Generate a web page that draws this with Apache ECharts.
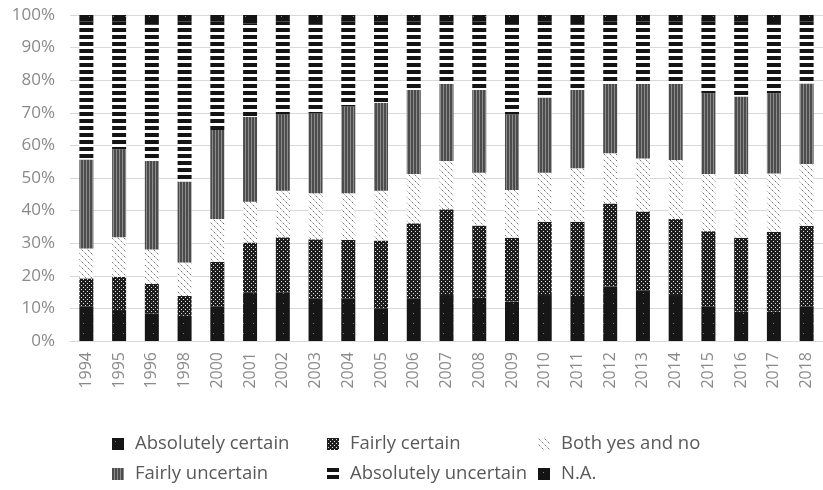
<!DOCTYPE html>
<html>
<head>
<meta charset="utf-8">
<script src="https://cdn.jsdelivr.net/npm/echarts@6/dist/echarts.min.js"></script>
<style>
html,body{margin:0;padding:0;background:#fff;}
#chart{width:823px;height:490px;}
</style>
</head>
<body>
<div id="chart"></div>
<script>
var years = ['1994','1995','1996','1998','2000','2001','2002','2003','2004','2005','2006','2007','2008','2009','2010','2011','2012','2013','2014','2015','2016','2017','2018'];
var absCertain = [10.5,9.5,8.5,7.7,10.5,14.8,14.8,13.1,13.1,10.0,13.1,14.1,13.3,12.1,14.1,13.8,16.7,15.4,14.1,10.5,9.0,9.0,10.5];
var fairlyCertain = [8.7,10.2,9.0,6.1,13.8,15.4,17.0,18.1,17.9,20.8,23.0,26.3,22.1,19.6,22.5,22.8,25.5,24.3,23.3,23.2,22.7,24.5,24.8];
var bothYesNo = [9.2,12.1,10.6,10.3,13.1,12.5,14.3,14.1,14.3,15.3,15.1,14.8,16.2,14.6,15.0,16.4,15.4,16.3,18.1,17.5,19.5,17.9,19.0];
var fairlyUncertain = [27.3,27.0,27.1,24.8,27.3,26.1,23.4,24.5,26.6,27.0,25.8,23.6,25.4,23.2,23.1,24.0,21.2,22.8,23.3,24.8,23.8,24.6,24.7];
var absUncertain = [42.3,39.2,41.8,49.1,33.3,28.7,28.5,27.2,26.1,24.9,21.0,19.2,21.0,27.5,23.3,20.0,19.2,19.2,19.2,22.0,23.0,21.0,19.0];
var notAvailable = [2,2,3,2,2,2.5,2,3,2,2,2,2,2,3,2,3,2,2,2,2,2,3,2];
var seriesNames = ['Absolutely certain','Fairly certain','Both yes and no','Fairly uncertain','Absolutely uncertain','N.A.'];
var yTicks = [0,10,20,30,40,50,60,70,80,90,100];

function makePattern(w, h, bg, pixels) {
  var c = document.createElement('canvas');
  c.width = w; c.height = h;
  var ctx = c.getContext('2d');
  ctx.fillStyle = bg; ctx.fillRect(0, 0, w, h);
  pixels.forEach(function (p) {
    ctx.fillStyle = p[4];
    ctx.fillRect(p[0], p[1], p[2], p[3]);
  });
  return { image: c, repeat: 'repeat' };
}

var patAC = makePattern(10, 10, '#161616', [[3,3,1,1,'#777']]);
var patFC = makePattern(4, 4, '#1e1e1e', [[1,1,1,1,'#e0e0e0'],[3,3,1,1,'#e0e0e0']]);
var patBoth = makePattern(6, 6, '#ffffff', [[1,1,1,1,'#777'],[4,4,1,1,'#777'],[0,0,1,1,'#c8c8c8'],[2,2,1,1,'#c8c8c8'],[3,3,1,1,'#c8c8c8'],[5,5,1,1,'#c8c8c8']]);
var patFU = makePattern(3, 1, '#4c4c4c', [[2,0,1,1,'#8c8c8c']]);
var patAU = makePattern(1, 7, '#ffffff', [[0,0,1,4,'#141414']]);
var patNA = makePattern(12, 12, '#141414', [[5,4,1,1,'#888']]);
var patterns = [patAC, patFC, patBoth, patFU, patAU, patNA];
var dataSets = [absCertain, fairlyCertain, bothYesNo, fairlyUncertain, absUncertain, notAvailable];

var series = seriesNames.map(function (name, i) {
  return {
    name: name,
    type: 'bar',
    stack: 'total',
    barWidth: 14,
    data: dataSets[i],
    itemStyle: { color: patterns[i] },
    emphasis: { disabled: true }
  };
});

var legendPos = [
  { left: 112, top: 434 }, { left: 327, top: 434 }, { left: 538, top: 434 },
  { left: 112, top: 464 }, { left: 327, top: 464 }, { left: 538, top: 464 }
];
var legends = seriesNames.map(function (name, i) {
  return {
    data: [name],
    left: legendPos[i].left,
    top: legendPos[i].top,
    padding: 0,
    icon: 'rect',
    itemWidth: 12,
    itemHeight: 12,
    textStyle: { fontFamily: 'Open Sans', fontSize: 18.5, lineHeight: 20, color: '#595959', padding: [0,0,0,6] },
    selectedMode: false
  };
});

var chart = echarts.init(document.getElementById('chart'), null, { renderer: 'canvas' });
chart.setOption({
  animation: false,
  backgroundColor: '#ffffff',
  grid: { left: 70, top: 15, width: 761, height: 326, containLabel: false },
  legend: legends,
  xAxis: {
    type: 'category',
    data: years,
    axisTick: { show: false },
    axisLine: { show: true, lineStyle: { color: '#d9d9d9', width: 1 } },
    axisLabel: { rotate: 90, margin: 11, fontFamily: 'Open Sans', fontSize: 16, color: '#8a8a8a', interval: 0 }
  },
  yAxis: {
    type: 'value',
    min: yTicks[0],
    max: yTicks[yTicks.length - 1],
    interval: 10,
    axisLabel: { formatter: '{value}%', margin: 15, fontFamily: 'Open Sans', fontSize: 17, color: '#8a8a8a' },
    axisLine: { show: false },
    axisTick: { show: false },
    splitLine: { lineStyle: { color: '#d9d9d9', width: 1 } }
  },
  series: series
});
</script>
</body>
</html>
